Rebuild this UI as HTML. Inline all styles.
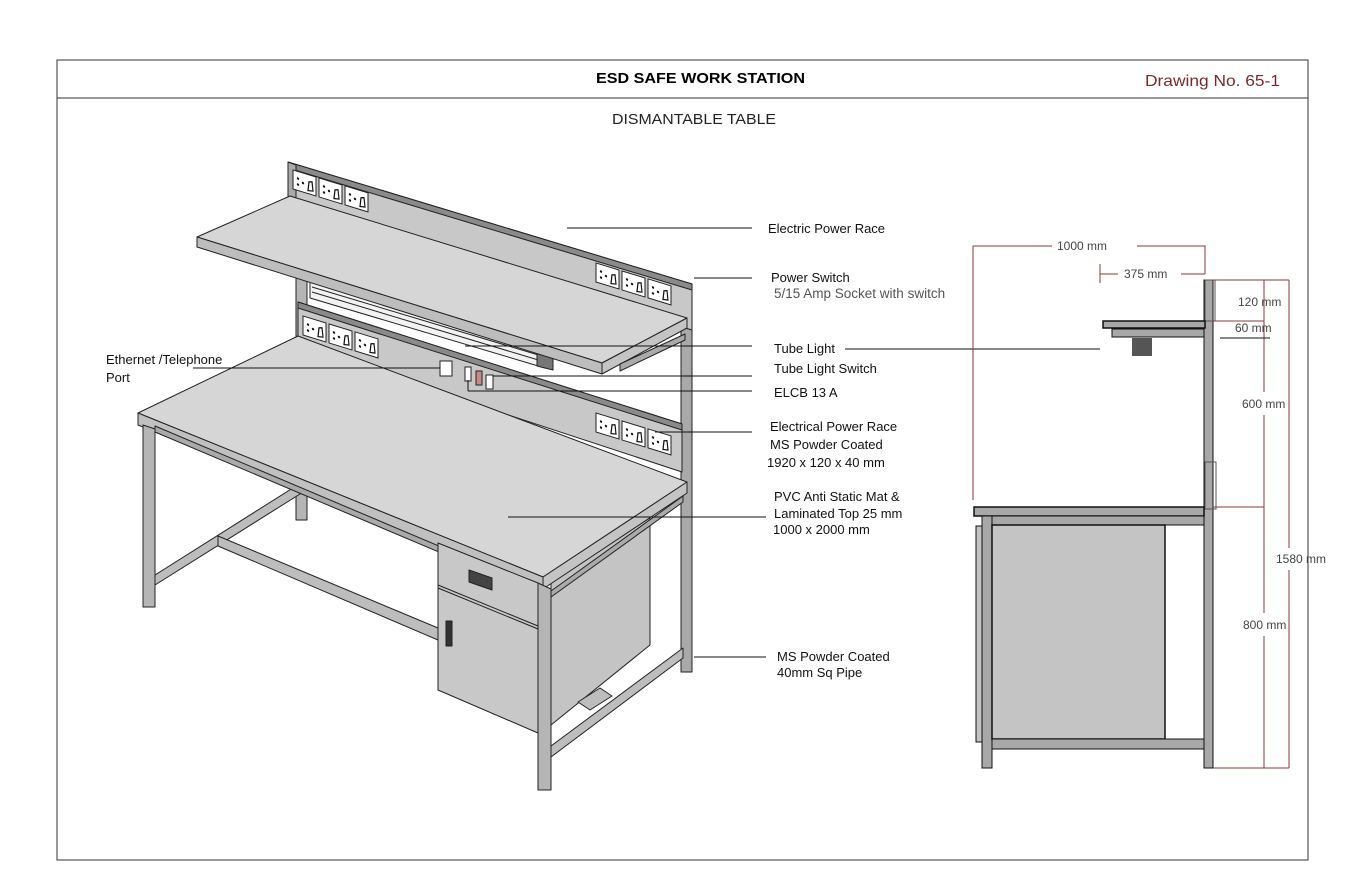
<!DOCTYPE html>
<html><head><meta charset="utf-8"><style>
html,body{margin:0;padding:0;background:#fff;}
svg{display:block;font-family:"Liberation Sans",sans-serif;}
.l{font-size:13px;fill:#111;}
.g{font-size:13.5px;fill:#555;}
.d{font-size:12px;fill:#444;}
</style></head><body>
<svg width="1360" height="884" viewBox="0 0 1360 884" xmlns="http://www.w3.org/2000/svg">
<defs>
<g id="sock">
<rect x="0" y="0" width="23" height="19" fill="#fff" stroke="#222" stroke-width="1"/>
<circle cx="5" cy="7" r="1.2" fill="#111"/><circle cx="5" cy="13" r="1.2" fill="#111"/><circle cx="10" cy="10" r="1.2" fill="#111"/>
<path d="M15 16 L16 7 L19 6 L20 15 Z" fill="none" stroke="#111" stroke-width="1.2"/>
</g>
<g id="s3"><use href="#sock" x="0"/><use href="#sock" x="26"/><use href="#sock" x="52"/></g>
</defs>
<rect x="57" y="60" width="1251" height="800" fill="none" stroke="#333" stroke-width="1"/>
<line x1="57" y1="98" x2="1308" y2="98" stroke="#333"/>
<text x="596" y="83" font-size="15" font-weight="bold" textLength="209" lengthAdjust="spacingAndGlyphs">ESD SAFE WORK STATION</text>
<text x="1145" y="86" font-size="16" fill="#7a2a2a" textLength="135" lengthAdjust="spacingAndGlyphs">Drawing No. 65-1</text>
<text x="612" y="124" font-size="15" fill="#222" textLength="164" lengthAdjust="spacingAndGlyphs">DISMANTABLE TABLE</text>

<g stroke="#222" stroke-width="1" stroke-linejoin="round">
<polygon points="681,286 692,286 692,672 681,672" fill="#a9a9a9"/>
<polygon points="288,162 692,284 692,330 288,210" fill="#c8c8c8"/>
<polygon points="288,162 692,284 692,290 288,168" fill="#8a8a8a"/>
<polygon points="288,162 296,165 296,210 288,208" fill="#aaa"/>
<polygon points="296,270 307,272 307,338 296,336" fill="#b5b5b5"/>
<polygon points="310,282 545,352 545,368 310,298" fill="#f2f2f2"/>
<line x1="312" y1="287" x2="545" y2="357"/><line x1="312" y1="292" x2="545" y2="362"/>
<polygon points="537,350 553,355 553,370 537,366" fill="#777"/>
<polygon points="298,302 682,424 682,472 298,346" fill="#c8c8c8"/>
<polygon points="298,302 682,424 682,430 298,308" fill="#8a8a8a"/>
<polygon points="197,237 290,196 687,318 602,363" fill="#d6d6d6"/>
<polygon points="197,237 602,363 602,374 197,247" fill="#bdbdbd"/>
<polygon points="602,363 687,318 687,328 602,374" fill="#c4c4c4"/>
<polygon points="620,364 685,334 685,340 620,371" fill="#aaa"/>
<polygon points="296,486 307,486 307,520 296,520" fill="#b5b5b5"/>
<polygon points="155,575 296,486 300,494 155,585" fill="#bdbdbd"/>
<polygon points="218,536 438,628 438,640 218,546" fill="#bdbdbd"/>
<polygon points="551,580 650,518 650,645 551,725" fill="#c4c4c4"/>
<polygon points="551,746 683,648 683,658 551,757" fill="#bdbdbd"/>
<polygon points="578,702 600,688 612,696 590,710" fill="#bdbdbd"/>
<polygon points="138,413 298,336 687,482 543,577" fill="#d6d6d6"/>
<polygon points="138,413 543,577 543,589 138,425" fill="#c0c0c0"/>
<polygon points="543,577 687,482 687,493 543,589" fill="#c4c4c4"/>
<polygon points="155,426 543,590 543,596 155,432" fill="#aaa"/>
<polygon points="551,591 683,496 683,502 551,597" fill="#aaa"/>
<polygon points="143,425 155,429 155,607 143,607" fill="#b5b5b5"/>
<polygon points="538,583 551,589 551,790 538,790" fill="#b5b5b5"/>
<polygon points="438,543 538,583 538,733 438,690" fill="#c8c8c8"/>
<line x1="438" y1="585" x2="538" y2="626"/><line x1="438" y1="588" x2="538" y2="629"/>
<polygon points="469,570 492,578 492,590 469,582" fill="#444"/>
<rect x="446" y="621" width="6" height="25" fill="#333"/>
</g>
<use href="#s3" transform="translate(293,170) skewY(17)"/>
<use href="#s3" transform="translate(596,263) skewY(17)"/>
<use href="#s3" transform="translate(303,316) skewY(17)"/>
<use href="#s3" transform="translate(596,413) skewY(17)"/>
<g stroke="#222" stroke-width="1">
<rect x="440" y="361" width="12" height="15" fill="#fff"/>
<rect x="465" y="367" width="6" height="14" fill="#fff"/>
<rect x="476" y="371" width="6" height="14" fill="#c88"/>
<rect x="486" y="375" width="7" height="14" fill="#fff"/>
</g>
<g stroke="#111" stroke-width="1">
<line x1="567" y1="228" x2="752" y2="228"/>
<line x1="694" y1="278" x2="752" y2="278"/>
<line x1="465" y1="346" x2="752" y2="346"/>
<line x1="493" y1="376" x2="752" y2="376"/>
<line x1="468" y1="380" x2="468" y2="391"/><line x1="468" y1="391" x2="752" y2="391"/>
<line x1="655" y1="432" x2="752" y2="432"/>
<line x1="508" y1="517" x2="766" y2="517"/>
<line x1="694" y1="657" x2="766" y2="657"/>
<line x1="193" y1="368" x2="440" y2="368"/>
<line x1="845" y1="349" x2="1100" y2="349"/>
</g>
<text class="l" x="768" y="233">Electric  Power Race</text>
<text class="l" x="771" y="282">Power Switch</text>
<text class="g" x="774" y="298">5/15 Amp Socket with switch</text>
<text class="l" x="774" y="353">Tube Light</text>
<text class="l" x="774" y="373">Tube Light Switch</text>
<text class="l" x="774" y="397" font-size="13.5">ELCB 13 A</text>
<text class="l" x="770" y="431">Electrical Power Race</text>
<text class="l" x="770" y="449">MS Powder Coated</text>
<text class="l" x="767" y="467">1920 x 120 x 40 mm</text>
<text class="l" x="774" y="501">PVC Anti Static Mat &amp;</text>
<text class="l" x="774" y="518">Laminated Top  25 mm</text>
<text class="l" x="773" y="534">1000 x 2000 mm</text>
<text class="l" x="777" y="661">MS Powder Coated</text>
<text class="l" x="777" y="677">40mm Sq Pipe</text>
<text class="l" x="106" y="364">Ethernet /Telephone</text>
<text class="l" x="106" y="382">Port</text>

<g stroke="#111" stroke-width="1">
<rect x="1204" y="280" width="9" height="488" fill="#a8a8a8"/>
<rect x="1205" y="280" width="10" height="41" fill="none" stroke="#555"/>
<rect x="1205" y="462" width="11" height="47" fill="none" stroke="#555"/>
<rect x="1103" y="321" width="102" height="7" fill="#a8a8a8" stroke-width="1.5"/>
<rect x="1112" y="329" width="92" height="8" fill="#a8a8a8"/>
<rect x="1132" y="338" width="20" height="18" fill="#555" stroke="none"/>
<rect x="974" y="507" width="230" height="9" fill="#a8a8a8" stroke-width="1.5"/>
<rect x="982" y="516" width="222" height="9" fill="#a8a8a8"/>
<rect x="982" y="516" width="10" height="252" fill="#a8a8a8"/>
<rect x="976" y="526" width="6" height="216" fill="#c4c4c4"/>
<rect x="992" y="525" width="173" height="214" fill="#c4c4c4" stroke-width="1.5"/>
<rect x="992" y="739" width="212" height="10" fill="#a8a8a8"/>
</g>
<g stroke="#8b3a3a" stroke-width="1" fill="none">
<polyline points="973,500 973,246 1052,246"/>
<polyline points="1137,246 1205,246 1205,274"/>
<line x1="1100" y1="264" x2="1100" y2="283"/>
<line x1="1100" y1="274" x2="1118" y2="274"/>
<line x1="1181" y1="274" x2="1205" y2="274"/>
<line x1="1213" y1="280" x2="1289" y2="280"/>
<line x1="1213" y1="321" x2="1264" y2="321"/>
<line x1="1213" y1="507" x2="1264" y2="507"/>
<line x1="1213" y1="768" x2="1289" y2="768"/>
<line x1="1264" y1="280" x2="1264" y2="392"/>
<line x1="1264" y1="415" x2="1264" y2="613"/>
<line x1="1264" y1="636" x2="1264" y2="768"/>
<line x1="1289" y1="280" x2="1289" y2="548"/>
<line x1="1289" y1="570" x2="1289" y2="768"/>
</g>
<line x1="1220" y1="338" x2="1270" y2="338" stroke="#111"/>
<text class="d" x="1057" y="250">1000 mm</text>
<text class="d" x="1124" y="278">375 mm</text>
<text class="d" x="1238" y="306">120 mm</text>
<text class="d" x="1235" y="332" fill="#7a2a2a">60 mm</text>
<text class="d" x="1242" y="408">600 mm</text>
<text class="d" x="1276" y="563">1580 mm</text>
<text class="d" x="1243" y="629">800 mm</text>
</svg>
</body></html>
